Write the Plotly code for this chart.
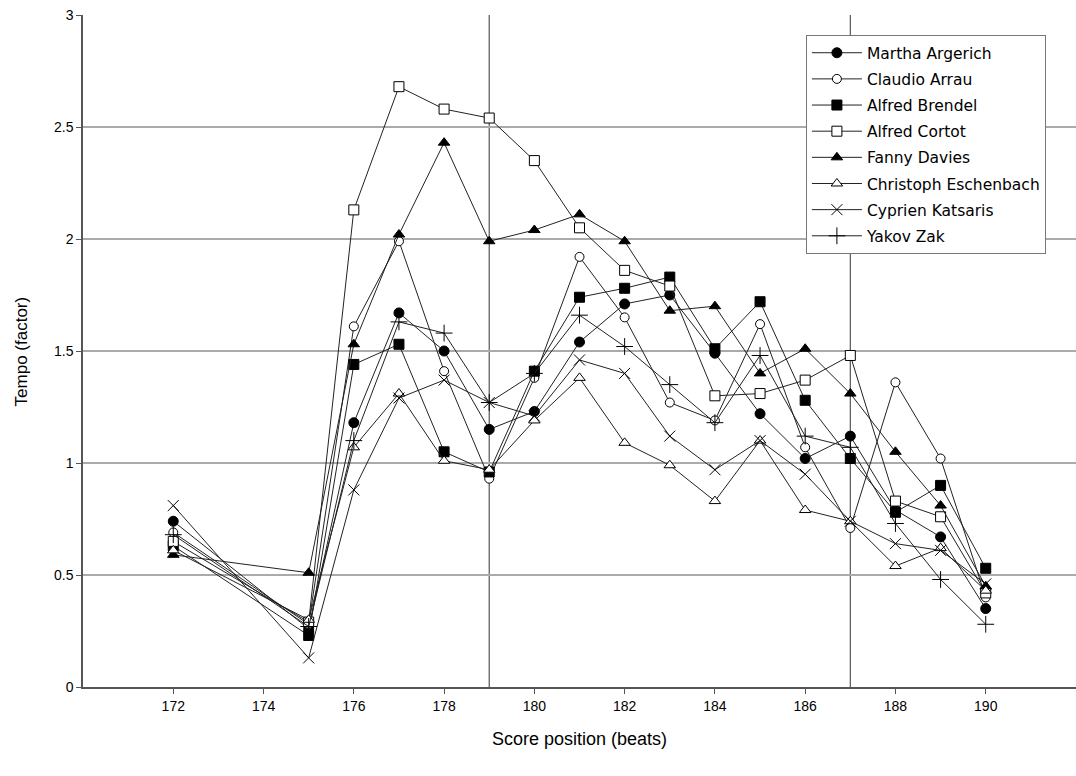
import plotly.graph_objects as go

beats = [172, 175, 176, 177, 178, 179, 180, 181, 182, 183, 184, 185, 186, 187, 188, 189, 190]

argerich = [0.74, 0.26, 1.18, 1.67, 1.50, 1.15, 1.23, 1.54, 1.71, 1.75, 1.49, 1.22, 1.02, 1.12, 0.79, 0.67, 0.35]
arrau = [0.69, 0.28, 1.61, 1.99, 1.41, 0.93, 1.38, 1.92, 1.65, 1.27, 1.19, 1.62, 1.07, 0.71, 1.36, 1.02, 0.40]
brendel = [0.63, 0.23, 1.44, 1.53, 1.05, 0.96, 1.41, 1.74, 1.78, 1.83, 1.51, 1.72, 1.28, 1.02, 0.78, 0.90, 0.53]
cortot = [0.65, 0.29, 2.13, 2.68, 2.58, 2.54, 2.35, 2.05, 1.86, 1.79, 1.30, 1.31, 1.37, 1.48, 0.83, 0.76, 0.42]
davies = [0.59, 0.51, 1.53, 2.02, 2.43, 1.99, 2.04, 2.11, 1.99, 1.68, 1.70, 1.40, 1.51, 1.31, 1.05, 0.81, 0.45]
eschenbach = [0.61, 0.30, 1.07, 1.31, 1.01, 0.97, 1.19, 1.38, 1.09, 0.99, 0.83, 1.10, 0.79, 0.74, 0.54, 0.62, 0.43]
katsaris = [0.81, 0.13, 0.88, 1.29, 1.37, 1.27, 1.21, 1.46, 1.40, 1.12, 0.97, 1.10, 0.95, 0.74, 0.64, 0.61, 0.46]
zak = [0.68, 0.27, 1.10, 1.63, 1.58, 1.27, 1.40, 1.66, 1.52, 1.35, 1.18, 1.48, 1.12, 1.07, 0.73, 0.48, 0.28]

names = ["Martha Argerich", "Claudio Arrau", "Alfred Brendel", "Alfred Cortot",
         "Fanny Davies", "Christoph Eschenbach", "Cyprien Katsaris", "Yakov Zak"]
series = [argerich, arrau, brendel, cortot, davies, eschenbach, katsaris, zak]

x_ticks = [172, 174, 176, 178, 180, 182, 184, 186, 188, 190]
y_ticks = [0, 0.5, 1, 1.5, 2, 2.5, 3]
ref_lines = [179, 187]

styles = [
    dict(symbol="circle", color="black", size=10),
    dict(symbol="circle", color="white", size=9),
    dict(symbol="square", color="black", size=10),
    dict(symbol="square", color="white", size=10),
    dict(symbol="triangle-up", color="black", size=10),
    dict(symbol="triangle-up", color="white", size=10),
    dict(symbol="x-thin", color="black", size=11),
    dict(symbol="cross-thin", color="black", size=12),
]

fig = go.Figure()
for i, (name, vals, st) in enumerate(zip(names, series, styles)):
    fig.add_trace(go.Scatter(
        x=beats, y=vals, name=name, mode="lines+markers",
        legendgroup=f"g{i}",
        line=dict(color="#222222", width=1),
        marker=dict(symbol=st["symbol"], size=st["size"], color=st["color"],
                    line=dict(color="black", width=1)),
    ))

for xv in ref_lines:
    fig.add_shape(type="line", xref="x", yref="paper", x0=xv, x1=xv, y0=0, y1=1,
                  line=dict(color="#555555", width=1.2), layer="below")

fig.add_annotation(text="Score position (beats)", xref="paper", yref="paper",
                   x=0.5, y=-0.078, xanchor="center", yanchor="middle",
                   showarrow=False, font=dict(size=18))
fig.add_annotation(text="Tempo (factor)", xref="paper", yref="paper",
                   x=-0.062, y=0.5, xanchor="center", yanchor="middle",
                   textangle=-90, showarrow=False, font=dict(size=17))

fig.update_layout(
    width=1076, height=776,
    margin=dict(l=83, r=0, t=15, b=89),
    paper_bgcolor="white", plot_bgcolor="white",
    font=dict(family="Liberation Sans, Arial, sans-serif", color="black", size=14),
    showlegend=True,
    legend=dict(
        x=0.728, y=0.97, xanchor="left", yanchor="top",
        bgcolor="white", bordercolor="#777777", borderwidth=1,
        font=dict(family="DejaVu Sans, sans-serif", size=15.5, color="black"),
        tracegroupgap=3, itemwidth=50,
    ),
    xaxis=dict(
        range=[170, 192], tickvals=x_ticks, ticks="outside", ticklen=5,
        tickcolor="#555555", showgrid=False, zeroline=False, automargin=False,
        showline=True, linecolor="#555555", linewidth=1.5,
        tickfont=dict(size=14),
    ),
    yaxis=dict(
        range=[0, 3], tickvals=y_ticks, ticks="outside", ticklen=5,
        tickcolor="#555555", showgrid=True, gridcolor="#aaaaaa", gridwidth=1.5,
        zeroline=False, automargin=False, showline=True, linecolor="#555555", linewidth=1.5,
        tickfont=dict(size=14),
    ),
)

fig.write_html("out.html", config={"displayModeBar": False},
               post_script="document.body.style.margin='0';document.body.style.overflow='hidden';")
